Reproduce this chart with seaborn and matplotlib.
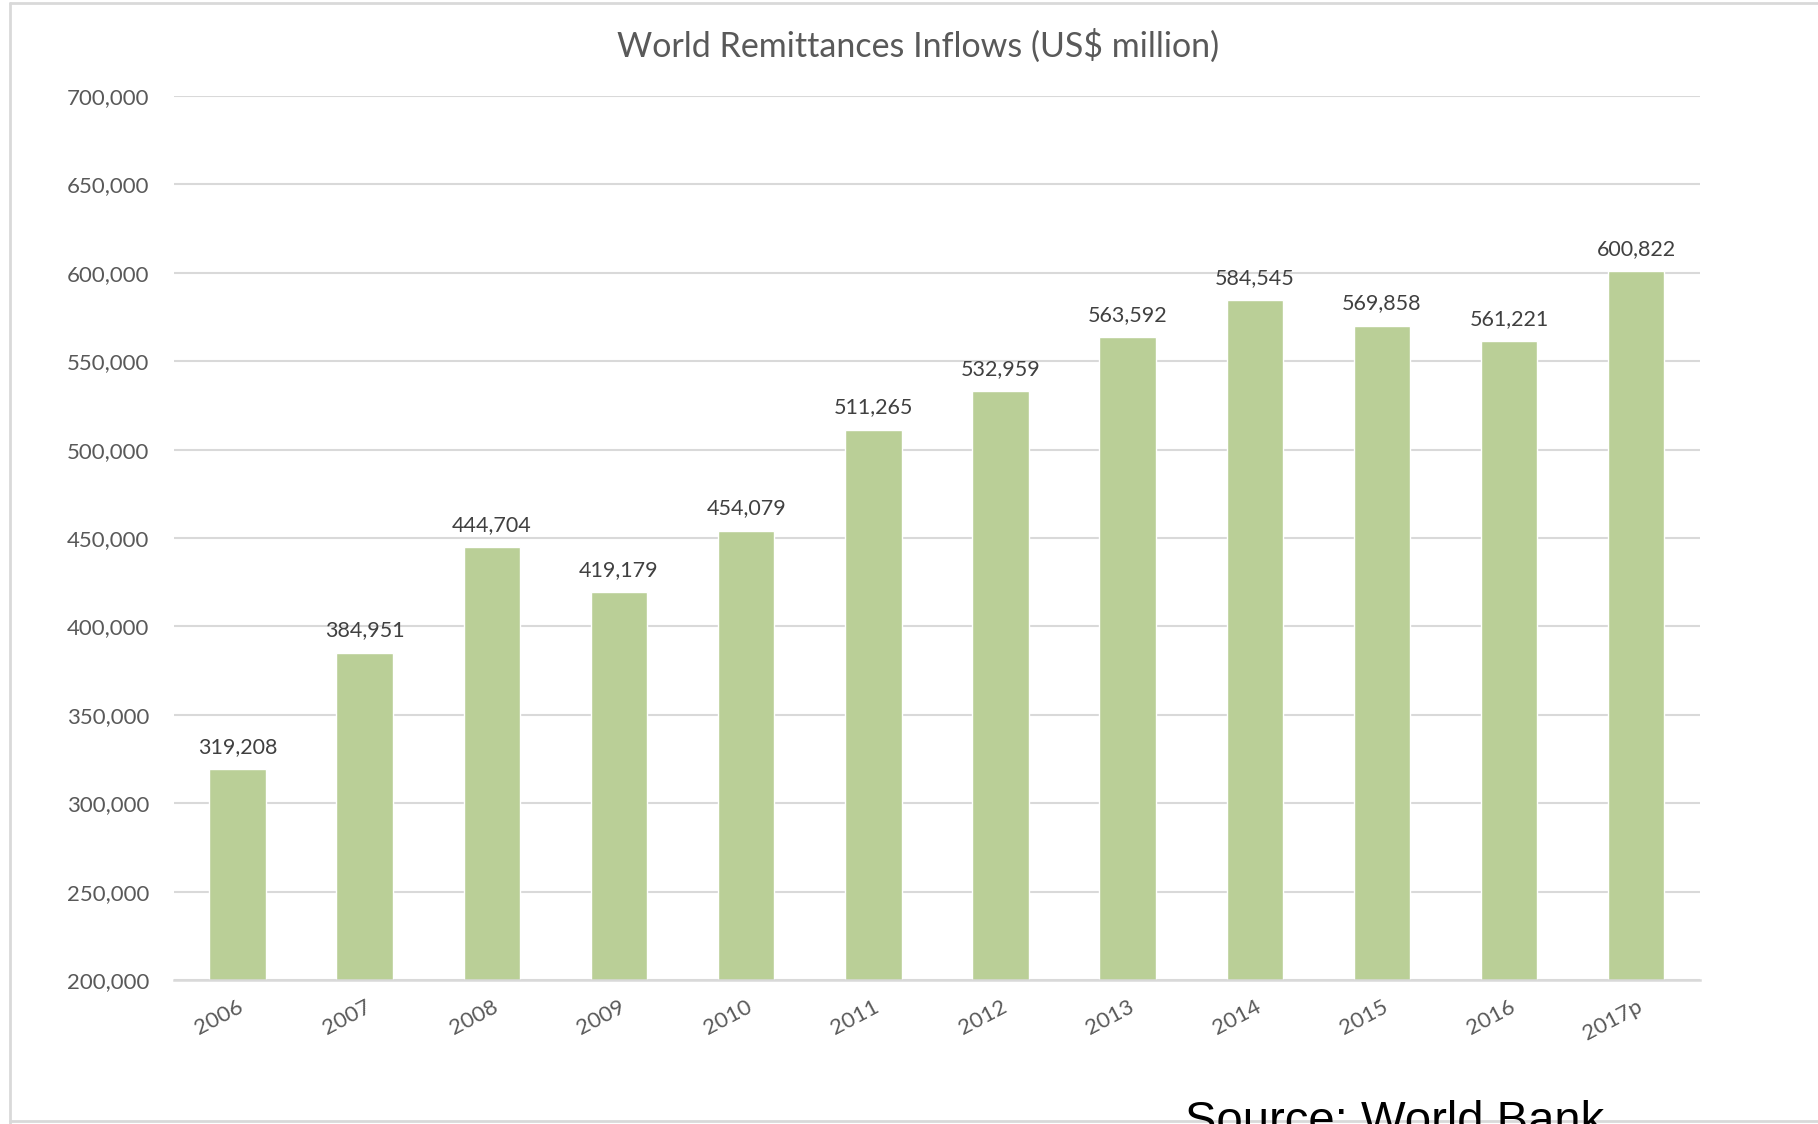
import matplotlib
matplotlib.use("Agg")
import matplotlib.pyplot as plt
import seaborn as sns
import pandas as pd
from matplotlib.lines import Line2D
from matplotlib.ticker import FuncFormatter

# Chart data (World Bank remittance inflows, US$ million)
years = ["2006", "2007", "2008", "2009", "2010", "2011",
         "2012", "2013", "2014", "2015", "2016", "2017p"]
inflows = [319208, 384951, 444704, 419179, 454079, 511265,
           532959, 563592, 584545, 569858, 561221, 600822]
y_ticks = [200000, 250000, 300000, 350000, 400000, 450000,
           500000, 550000, 600000, 650000, 700000]

df = pd.DataFrame({"year": years, "inflow": inflows})

sns.set_theme(style="white")
plt.rcParams["font.family"] = ["Lato", "DejaVu Sans"]

fig = plt.figure(figsize=(18.18, 11.24), dpi=100)
ax = fig.add_axes([0.0957, 0.1281, 0.8393, 0.7865])

sns.barplot(data=df, x="year", y="inflow", color="#BACF97",
            saturation=1, width=0.444, ax=ax)

ax.set_ylim(200000, 700000)
ax.set_xlim(-0.5, len(years) - 0.5)
ax.set_yticks(y_ticks)
ax.yaxis.set_major_formatter(FuncFormatter(lambda v, p: f"{v:,.0f}"))
ax.grid(axis="y", color="#D9D9D9", linewidth=1.5)
ax.set_axisbelow(True)
for side in ["top", "right", "left"]:
    ax.spines[side].set_visible(False)
ax.spines["bottom"].set_color("#D9D9D9")
ax.spines["bottom"].set_linewidth(1.8)
ax.set_xlabel("")
ax.set_ylabel("")
ax.tick_params(axis="y", length=0, pad=18, labelsize=16, labelcolor="#595959")
ax.tick_params(axis="x", length=0, pad=12, labelsize=16, labelcolor="#595959")
for lbl in ax.get_xticklabels():
    lbl.set_rotation(28)
    lbl.set_ha("right")
    lbl.set_rotation_mode("anchor")

ax.bar_label(ax.containers[0], labels=[f"{v:,}" for v in inflows],
             padding=9, fontsize=15.5, color="#404040")

fig.text(0.505, 0.959, "World Remittances Inflows (US$ million)",
         ha="center", va="center", fontsize=24.5, color="#595959")

# source note sits partly below the bottom edge, as in the original screenshot
fig.text(0.652, -0.009, "Source: World Bank", ha="left", va="baseline",
         fontsize=34, color="black", family="Liberation Sans")

# light frame around the chart area
frame = "#D9D9D9"
fig.add_artist(Line2D([0.0055, 0.0055], [0.0, 0.997], color=frame, lw=2,
                      transform=fig.transFigure))
fig.add_artist(Line2D([0.0055, 1.0], [0.997, 0.997], color=frame, lw=2,
                      transform=fig.transFigure))
fig.add_artist(Line2D([0.0055, 1.0], [0.003, 0.003], color=frame, lw=2,
                      transform=fig.transFigure))

fig.savefig("out.png", dpi=100, facecolor="white")
